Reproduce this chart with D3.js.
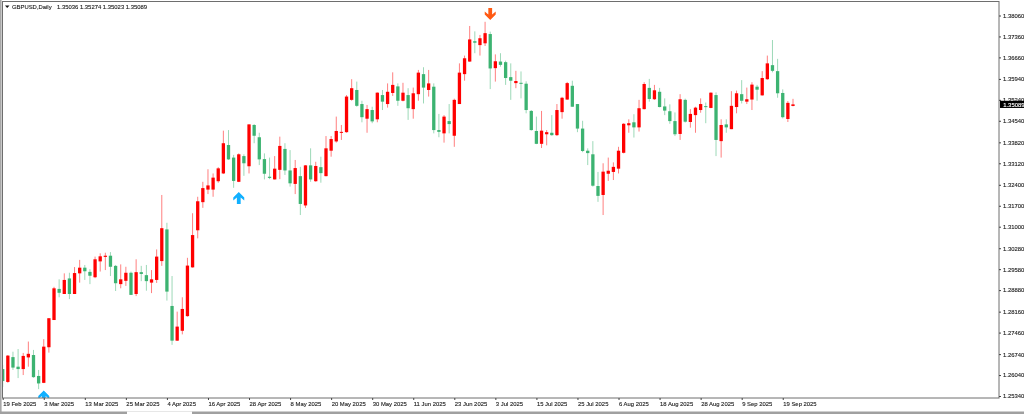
<!DOCTYPE html>
<html><head><meta charset="utf-8">
<script src="https://cdn.jsdelivr.net/npm/d3@7"></script>
<style>
html,body{margin:0;padding:0;background:#fff;overflow:hidden}
svg{display:block;filter:blur(0.35px)}
text{font-family:"Liberation Sans",Arial,sans-serif;fill:#222;stroke:#222;stroke-width:0.12px}
</style></head><body>
<script>
const title = "GBPUSD,Daily";
const quote = "1.35036 1.35274 1.35023 1.35089";
const lastPrice = 1.35089;
const tickDates = ["19 Feb 2025","3 Mar 2025","13 Mar 2025","25 Mar 2025","4 Apr 2025","16 Apr 2025","28 Apr 2025","8 May 2025","20 May 2025","30 May 2025","11 Jun 2025","23 Jun 2025","3 Jul 2025","15 Jul 2025","25 Jul 2025","6 Aug 2025","18 Aug 2025","28 Aug 2025","9 Sep 2025","19 Sep 2025"];
const priceTicks = [1.38060,1.37360,1.36660,1.35940,1.35240,1.34540,1.33820,1.33120,1.32400,1.31700,1.31000,1.30280,1.29580,1.28880,1.28160,1.27460,1.26740,1.26040,1.25340];
const open = [1.2624,1.2581,1.2664,1.2632,1.2624,1.2663,1.2671,1.2601,1.2578,1.2697,
1.2788,1.2892,1.2875,1.2927,1.2875,1.2944,1.2963,1.2949,1.2931,1.2984,
1.2999,1.3003,1.2969,1.2908,1.2919,1.2946,1.2875,1.2948,1.2938,1.2913,
1.2922,1.2985,1.3091,1.2835,1.2719,1.2752,1.2801,1.2964,1.3088,1.3182,
1.3224,1.3224,1.3252,1.3278,1.3373,1.3331,1.3250,1.3336,1.3302,1.3440,
1.3399,1.3326,1.3267,1.3258,1.3290,1.3360,1.3288,1.3243,1.3269,1.3171,
1.3305,1.3252,1.3299,1.3269,1.3354,1.3385,1.3414,1.3416,1.3524,1.3557,
1.3510,1.3461,1.3490,1.3459,1.3540,1.3510,1.3547,1.3569,1.3521,1.3540,
1.3493,1.3543,1.3610,1.3557,1.3568,1.3423,1.3412,1.3453,1.3404,1.3510,
1.3610,1.3652,1.3720,1.3707,1.3713,1.3744,1.3630,1.3652,1.3650,1.3600,
1.3580,1.3581,1.3578,1.3487,1.3420,1.3377,1.3409,1.3414,1.3406,1.3483,
1.3525,1.3571,1.3510,1.3428,1.3354,1.3342,1.3236,1.3206,1.3277,1.3283,
1.3294,1.3347,1.3439,1.3449,1.3432,1.3493,1.3564,1.3526,1.3551,1.3502,
1.3486,1.3453,1.3410,1.3524,1.3450,1.3473,1.3490,1.3503,1.3497,1.3540,
1.3386,1.3442,1.3426,1.3500,1.3543,1.3518,1.3525,1.3568,1.3539,1.3593,
1.3640,1.3620,1.3547,1.3460,1.35036];
const high = [1.2638,1.2671,1.2682,1.2691,1.2678,1.2716,1.2688,1.2621,1.2724,1.2794,
1.2899,1.2924,1.2944,1.2946,1.2965,1.2989,1.2972,1.2958,1.3000,1.3011,
1.3013,1.3015,1.2972,1.2974,1.2966,1.2950,1.2991,1.2969,1.2972,1.2955,
1.3024,1.3206,1.3113,1.2935,1.2816,1.2864,1.2996,1.3145,1.3200,1.3250,
1.3292,1.3278,1.3299,1.3421,1.3423,1.3340,1.3345,1.3342,1.3442,1.3443,
1.3414,1.3345,1.3331,1.3336,1.3401,1.3379,1.3356,1.3323,1.3300,1.3306,
1.3362,1.3317,1.3334,1.3403,1.3403,1.3468,1.3440,1.3540,1.3593,1.3585,
1.3521,1.3507,1.3501,1.3549,1.3557,1.3579,1.3616,1.3579,1.3581,1.3563,
1.3565,1.3624,1.3633,1.3624,1.3579,1.3477,1.3473,1.3510,1.3528,1.3646,
1.3672,1.3771,1.3753,1.3741,1.3785,1.3752,1.3676,1.3680,1.3655,1.3646,
1.3621,1.3619,1.3586,1.3490,1.3468,1.3487,1.3423,1.3473,1.3510,1.3534,
1.3584,1.3588,1.3510,1.3454,1.3362,1.3386,1.3283,1.3312,1.3331,1.3315,
1.3367,1.3446,1.3459,1.3476,1.3524,1.3583,1.3594,1.3574,1.3564,1.3529,
1.3509,1.3482,1.3543,1.3528,1.3493,1.3501,1.3529,1.3515,1.3549,1.3549,
1.3459,1.3459,1.3553,1.3555,1.3590,1.3565,1.3583,1.3574,1.3620,1.3672,
1.3724,1.3661,1.3559,1.3520,1.35274];
const low = [1.2564,1.2578,1.2621,1.2594,1.2604,1.2632,1.2595,1.2557,1.2577,1.2679,
1.2788,1.2864,1.2875,1.2858,1.2875,1.2913,1.2922,1.2908,1.2928,1.2950,
1.2955,1.2935,1.2885,1.2894,1.2902,1.2872,1.2868,1.2918,1.2886,1.2878,
1.2912,1.2969,1.2853,1.2705,1.2718,1.2740,1.2799,1.2963,1.3061,1.3163,
1.3209,1.3200,1.3247,1.3276,1.3323,1.3230,1.3249,1.3270,1.3278,1.3379,
1.3306,1.3258,1.3259,1.3258,1.3259,1.3273,1.3234,1.3209,1.3139,1.3163,
1.3250,1.3250,1.3247,1.3268,1.3334,1.3381,1.3390,1.3414,1.3521,1.3501,
1.3449,1.3414,1.3446,1.3449,1.3490,1.3498,1.3537,1.3504,1.3519,1.3457,
1.3461,1.3521,1.3512,1.3535,1.3412,1.3399,1.3381,1.3412,1.3367,1.3510,
1.3588,1.3651,1.3680,1.3672,1.3704,1.3560,1.3585,1.3635,1.3574,1.3524,
1.3563,1.3529,1.3479,1.3421,1.3376,1.3363,1.3372,1.3404,1.3403,1.3461,
1.3524,1.3501,1.3416,1.3349,1.3306,1.3234,1.3183,1.3139,1.3253,1.3256,
1.3278,1.3345,1.3414,1.3398,1.3418,1.3492,1.3518,1.3524,1.3499,1.3473,
1.3444,1.3403,1.3390,1.3448,1.3431,1.3414,1.3481,1.3446,1.3496,1.3336,
1.3331,1.3414,1.3426,1.3479,1.3512,1.3510,1.3490,1.3521,1.3538,1.3591,
1.3616,1.3531,1.3462,1.3450,1.35023];
const close = [1.2584,1.2669,1.2629,1.2624,1.2668,1.2675,1.2597,1.2576,1.2699,1.2794,
1.2894,1.2879,1.2922,1.2875,1.2945,1.2963,1.2951,1.2936,1.2991,1.3001,
1.3003,1.2966,1.2911,1.2924,1.2946,1.2872,1.2948,1.2942,1.2918,1.2924,
1.3000,1.3095,1.2883,1.2719,1.2766,1.2825,1.2970,1.3072,1.3185,1.3229,
1.3238,1.3264,1.3295,1.3379,1.3325,1.3253,1.3342,1.3312,1.3442,1.3404,
1.3325,1.3277,1.3263,1.3294,1.3370,1.3288,1.3245,1.3296,1.3176,1.3305,
1.3258,1.3303,1.3279,1.3362,1.3393,1.3420,1.3417,1.3535,1.3563,1.3504,
1.3466,1.3493,1.3452,1.3548,1.3518,1.3551,1.3574,1.3521,1.3548,1.3496,
1.3546,1.3615,1.3565,1.3579,1.3423,1.3417,1.3468,1.3443,1.3524,1.3615,
1.3663,1.3726,1.3715,1.3730,1.3747,1.3629,1.3653,1.3641,1.3597,1.3588,
1.3587,1.3578,1.3490,1.3423,1.3377,1.3421,1.3416,1.3406,1.3490,1.3531,
1.3580,1.3501,1.3428,1.3353,1.3346,1.3237,1.3203,1.3284,1.3287,1.3300,
1.3354,1.3444,1.3446,1.3432,1.3496,1.3577,1.3527,1.3556,1.3500,1.3488,
1.3453,1.3409,1.3526,1.3451,1.3477,1.3498,1.3510,1.3500,1.3548,1.3390,
1.3440,1.3432,1.3504,1.3546,1.3521,1.3526,1.3575,1.3558,1.3597,1.3646,
1.3621,1.3546,1.3466,1.3514,1.35089];
const upSignalBars = [8,46];
const upSignalPrices = [1.2532,1.3196];
const downSignalBars = [95];
const downSignalPrices = [1.3811];

const W=1024,H=414;
const colUp="#ff0000",colDown="#3cb371",colBlue="#12b0ff",colOrange="#ff5a14";
const svg=d3.select("body").append("svg").attr("width",W).attr("height",H);
const plot={l:2.5,r:999,t:1.5,b:398};
const bars=d3.range(close.length);
const x=d3.scalePoint().domain(bars).range([2.7,793]);
const y=d3.scaleLinear().domain([1.2534,1.3806]).range([396,15.5]);

svg.append("clipPath").attr("id","plotClip").append("rect")
  .attr("x",plot.l).attr("y",plot.t).attr("width",plot.r-plot.l).attr("height",plot.b-plot.t);

// window chrome: left edge and bottom scroll bar with its white thumb
svg.append("rect").attr("x",0).attr("y",0).attr("width",1.6).attr("height",H).attr("fill","#a8a8a8");
svg.append("rect").attr("x",0).attr("y",411.5).attr("width",W).attr("height",2.5).attr("fill","#a0a0a0");
svg.append("rect").attr("x",127).attr("y",411.5).attr("width",65).attr("height",2.5).attr("fill","#fff");

const g=svg.append("g").attr("clip-path","url(#plotClip)");
const candle=g.selectAll("g.c").data(bars).join("g").attr("class","c");
const color=i=>close[i]>=open[i]?colUp:colDown;
candle.append("line")
  .attr("x1",i=>x(i)).attr("x2",i=>x(i))
  .attr("y1",i=>y(high[i])).attr("y2",i=>y(low[i]))
  .attr("stroke",color).attr("stroke-width",1).attr("stroke-opacity",0.5);
candle.append("rect")
  .attr("x",i=>x(i)-1.65).attr("width",3.3)
  .attr("y",i=>y(Math.max(open[i],close[i])))
  .attr("height",i=>Math.max(1,Math.abs(y(open[i])-y(close[i]))))
  .attr("fill",color);

// signal arrows
const upArrow="M0,-6L5.5,-0.5L5.5,2.5L1.9,-0.5L1.9,6L-1.9,6L-1.9,-0.5L-5.5,2.5L-5.5,-0.5Z";
const downArrow="M0,6L5.5,0.5L5.5,-2.5L1.9,0.5L1.9,-6L-1.9,-6L-1.9,0.5L-5.5,-2.5L-5.5,0.5Z";
g.selectAll("path.up").data(upSignalBars).join("path").attr("class","up")
  .attr("d",upArrow).attr("fill",colBlue)
  .attr("transform",(b,k)=>`translate(${x(b)},${y(upSignalPrices[k])})`);
g.selectAll("path.down").data(downSignalBars).join("path").attr("class","down")
  .attr("d",downArrow).attr("fill",colOrange)
  .attr("transform",(b,k)=>`translate(${x(b)},${y(downSignalPrices[k])})`);

// frame
svg.append("rect").attr("x",plot.l).attr("y",plot.t).attr("width",plot.r-plot.l).attr("height",plot.b-plot.t)
  .attr("fill","none").attr("stroke","#6e6e6e").attr("stroke-width",1);

// axes
const tickBars=tickDates.map((d,k)=>k*8);
const xAxis=d3.axisBottom(x).tickValues(tickBars).tickFormat(i=>tickDates[i/8]).tickSize(0).tickPadding(0);
const xg=svg.append("g").attr("transform",`translate(0,${plot.b})`).call(xAxis);
xg.select(".domain").remove();
xg.selectAll(".tick text").attr("text-anchor","start").attr("dy",0).attr("y",8).style("font-size","5.9px");
xg.selectAll(".tick").append("line").attr("y1",0).attr("y2",2).attr("stroke","#444");

const yAxis=d3.axisRight(y).tickValues(priceTicks).tickFormat(d3.format(".5f")).tickSize(2).tickPadding(2);
const yg=svg.append("g").attr("transform",`translate(${plot.r},0)`).call(yAxis);
yg.select(".domain").remove();
yg.selectAll(".tick line").attr("stroke","#444");
yg.selectAll(".tick text").style("font-size","5.9px");

// last price tag
const tag=svg.append("g").attr("transform",`translate(${plot.r+1},${y(lastPrice)})`);
tag.append("rect").attr("x",0).attr("y",-3.6).attr("width",25).attr("height",7.2).attr("fill","#000");
tag.append("text").attr("x",3.2).attr("y",2.2).style("font-size","5.9px").style("fill","#fff").style("stroke","#fff").text(d3.format(".5f")(lastPrice));

// header
svg.append("path").attr("d",d3.line()([[5,5.5],[9.5,5.5],[7.2,8]])+"Z").attr("fill","#111");
svg.append("text").attr("x",12).attr("y",8.8).style("font-size","5.9px").text(title);
svg.append("text").attr("x",57).attr("y",8.8).style("font-size","5.9px").text(quote);
</script>
</body></html>
